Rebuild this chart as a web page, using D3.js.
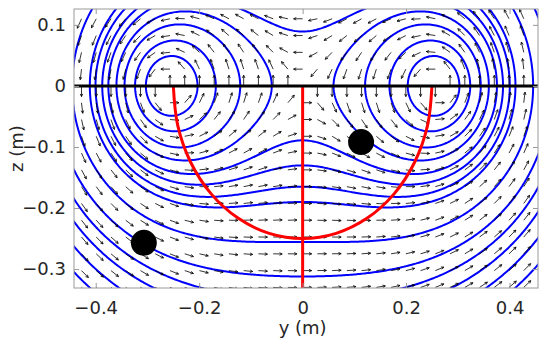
<!DOCTYPE html>
<html>
<head>
<meta charset="utf-8">
<script src="https://cdn.jsdelivr.net/npm/d3@7"></script>
<style>
  body { margin: 0; background: #fff; }
  text { font-family: "DejaVu Sans", sans-serif; }
</style>
</head>
<body>
<div id="chart"></div>
<script>
// tick labels
const yTicks = [-0.4, -0.2, 0, 0.2, 0.4];
const zTicks = [-0.3, -0.2, -0.1, 0, 0.1];

// the two co-rotating vortices (centres of the closed loops)
const vortexY = [-0.258, 0.258];
const vortexZ = [0, 0];

// streamline levels, read off where the loops cross z = 0, y = 0 and the left edge
// (value = product of the distances to the two vortices)
const levels = [0.0253, 0.0384, 0.052, 0.063, 0.0745, 0.0835, 0.0938, 0.1027,
                0.132, 0.164, 0.189, 0.212, 0.24, 0.272];

// quiver grid spacing (m)
const arrowStepY = [0.0285];
const arrowStepZ = [0.0275];

// hull section (red U) and centre line
const hullY = [-0.25, -0.2415, -0.2165, -0.1768, -0.125, -0.0647, 0, 0.0647, 0.125, 0.1768, 0.2165, 0.2415, 0.25];
const hullZ = [0, -0.0647, -0.125, -0.1768, -0.2165, -0.2415, -0.25, -0.2415, -0.2165, -0.1768, -0.125, -0.0647, 0];
const centreY = [0, 0];
const centreZ = [0, -0.34];

// black markers
const dotY = [-0.307, 0.113];
const dotZ = [-0.257, -0.092];

const margin = { top: 9, right: 12, bottom: 59, left: 74 };
const width = 464;
const height = 279;

const svg = d3.select("#chart")
    .append("svg")
    .attr("width", width + margin.left + margin.right)
    .attr("height", height + margin.top + margin.bottom);

const g = svg.append("g")
    .attr("transform", `translate(${margin.left},${margin.top})`);

const x = d3.scaleLinear().domain([-0.442, 0.455]).range([0, width]);
const z = d3.scaleLinear().domain([-0.331, 0.126]).range([height, 0]);

g.append("clipPath").attr("id", "plotClip")
    .append("rect").attr("width", width).attr("height", height);

const plot = g.append("g").attr("clip-path", "url(#plotClip)");

// streamlines via d3.contours on a grid wider than the axes
const step = 0.003, gy0 = -0.62, gz0 = -0.5;
const nY = Math.round((0.64 - gy0) / step), nZ = Math.round((0.32 - gz0) / step);
const values = new Array(nY * nZ);
for (let j = 0; j < nZ; j++) {
    const pz = gz0 + (j + 0.5) * step;
    for (let i = 0; i < nY; i++) {
        const py = gy0 + (i + 0.5) * step;
        let prod = 1;
        vortexY.forEach((vy, k) => { prod *= Math.hypot(py - vy, pz - vortexZ[k]); });
        values[j * nY + i] = prod;
    }
}
const contours = d3.contours().size([nY, nZ]).thresholds(levels)(values);
const toPixels = d3.geoTransform({
    point: function (px, pz) { this.stream.point(x(gy0 + px * step), z(gz0 + pz * step)); }
});
plot.append("g").selectAll("path")
    .data(contours)
    .enter().append("path")
    .attr("d", d3.geoPath(toPixels))
    .attr("fill", "none")
    .attr("stroke", "#0000ff")
    .attr("stroke-width", 2);

// quiver: unit direction of the vortex-pair velocity
function velocity(py, pz) {
    let u = 0, w = 0;
    vortexY.forEach((vy, k) => {
        const dy = py - vy, dz = pz - vortexZ[k];
        const r2 = dy * dy + dz * dz;
        u += -dz / r2;
        w += dy / r2;
    });
    return [u, w];
}
const arrowLen = 0.0175;
const arrows = [];
const yLo = Math.ceil(x.domain()[0] / arrowStepY[0]), yHi = Math.floor(x.domain()[1] / arrowStepY[0]);
const zLo = Math.ceil(z.domain()[0] / arrowStepZ[0]), zHi = Math.floor(z.domain()[1] / arrowStepZ[0]);
for (let i = yLo; i <= yHi; i++) {
    for (let j = zLo; j <= zHi; j++) {
        const py = i * arrowStepY[0], pz = j * arrowStepZ[0];
        const [u, w] = velocity(py, pz);
        const s = Math.hypot(u, w);
        if (!isFinite(s) || s === 0) continue;
        arrows.push({ py, pz, ey: u / s * arrowLen, ez: w / s * arrowLen });
    }
}
plot.append("g").selectAll("path")
    .data(arrows)
    .enter().append("path")
    .attr("d", d => {
        const x0 = x(d.py), y0 = z(d.pz), x1 = x(d.py + d.ey), y1 = z(d.pz + d.ez);
        const a = Math.atan2(y1 - y0, x1 - x0), h = 3, sp = 0.45;
        return `M${x0},${y0}L${x1},${y1}` +
            `M${x1 - h * Math.cos(a - sp)},${y1 - h * Math.sin(a - sp)}L${x1},${y1}` +
            `L${x1 - h * Math.cos(a + sp)},${y1 - h * Math.sin(a + sp)}`;
    })
    .attr("fill", "none")
    .attr("stroke", "#000")
    .attr("stroke-width", 0.8);

// hull and centre line
const line = d3.line().x(d => x(d[0])).y(d => z(d[1]));
plot.append("path")
    .attr("d", line.curve(d3.curveCatmullRom)(hullY.map((v, i) => [v, hullZ[i]])))
    .attr("fill", "none").attr("stroke", "#ff0000").attr("stroke-width", 3);
plot.append("path")
    .attr("d", d3.line().x(d => x(d[0])).y(d => z(d[1]))(centreY.map((v, i) => [v, centreZ[i]])))
    .attr("fill", "none").attr("stroke", "#ff0000").attr("stroke-width", 3);

// free surface
plot.append("line")
    .attr("x1", 0).attr("x2", width)
    .attr("y1", z(0)).attr("y2", z(0))
    .attr("stroke", "#000").attr("stroke-width", 3);

// markers
plot.selectAll("circle")
    .data(dotY.map((v, i) => [v, dotZ[i]]))
    .enter().append("circle")
    .attr("cx", d => x(d[0])).attr("cy", d => z(d[1]))
    .attr("r", 13).attr("fill", "#000");

// box and axes
const boxColor = "#9a9a9a", textColor = "#262626";
g.append("rect").attr("width", width).attr("height", height)
    .attr("fill", "none").attr("stroke", boxColor).attr("stroke-width", 1);

function styleAxis(sel) {
    sel.select(".domain").remove();
    sel.selectAll(".tick line").attr("stroke", boxColor);
    sel.selectAll("text").attr("fill", textColor).style("font-size", "18px");
}
g.append("g").attr("transform", `translate(0,${height})`)
    .call(d3.axisBottom(x).tickValues(yTicks).tickSize(-5).tickPadding(13).tickFormat(d3.format("")))
    .call(styleAxis);
g.append("g")
    .call(d3.axisTop(x).tickValues(yTicks).tickSize(-5).tickFormat(""))
    .call(styleAxis);
g.append("g")
    .call(d3.axisLeft(z).tickValues(zTicks).tickSize(-5).tickPadding(8).tickFormat(d3.format("")))
    .call(styleAxis);
g.append("g").attr("transform", `translate(${width},0)`)
    .call(d3.axisRight(z).tickValues(zTicks).tickSize(-5).tickFormat(""))
    .call(styleAxis);

svg.append("text")
    .attr("x", margin.left + x(0)).attr("y", 334)
    .attr("text-anchor", "middle").attr("fill", textColor)
    .style("font-size", "18px").text("y (m)");
svg.append("text")
    .attr("transform", `translate(23,${margin.top + height / 2}) rotate(-90)`)
    .attr("text-anchor", "middle").attr("fill", textColor)
    .style("font-size", "18px").text("z (m)");
</script>
</body>
</html>
